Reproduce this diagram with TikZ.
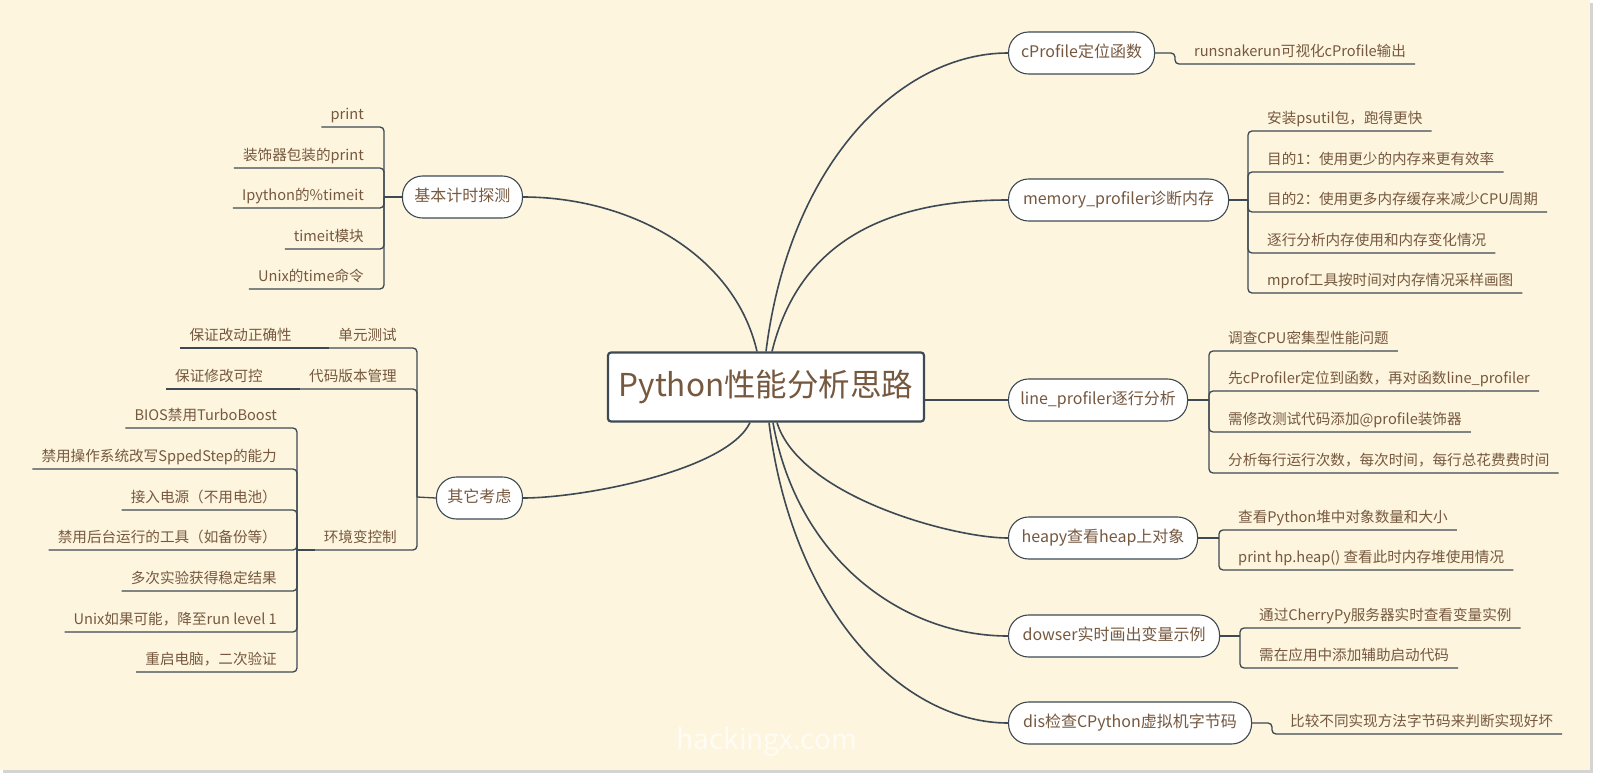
\documentclass[tikz,border=0pt]{standalone}
\usepackage{fontspec}
\setmainfont{Noto Sans CJK SC}
\usetikzlibrary{positioning}
\definecolor{paper}{HTML}{FDF5DE}
\definecolor{ink}{HTML}{3D4A53}
\definecolor{txtbrown}{HTML}{76583F}
\definecolor{edgegray}{HTML}{D4D4D4}
\tikzset{
  rootbox/.style={draw=ink,line width=2.2pt,fill=white,rounded corners=3pt,minimum width=316pt,minimum height=69pt,text=txtbrown,font=\fontsize{31.5}{36}\selectfont},
  topicbox/.style={draw=ink,line width=1.1pt,fill=white,rounded corners=20pt,minimum height=42pt,inner xsep=9pt,text height=12pt,text depth=3.5pt,text=txtbrown,font=\fontsize{16}{18}\selectfont},
  leaftext/.style={inner xsep=9pt,inner ysep=4pt,text height=11pt,text depth=3pt,text=txtbrown,font=\fontsize{14.6}{16}\selectfont},
  limb/.style={draw=ink,line width=1.6pt},
  twig/.style={draw=ink,line width=1.3pt,rounded corners=4pt},
}

\begin{document}
\begin{tikzpicture}[x=1pt,y=-1pt]
\useasboundingbox (0,0) rectangle (1600,779);
% paper and its shadow
\fill[white] (0,0) rectangle (1600,779);
\fill[edgegray] (3,3) rectangle (1593,773);
\fill[paper] (0,0) rectangle (1590,770);
\node (wm) [text=white,opacity=0.7,font=\fontsize{28}{30}\selectfont] at (767,742) {hackingx.com};
%
\node (main) [rootbox] at (766,387) {Python性能分析思路};
% left topics
\node (jb) [topicbox,anchor=east,minimum width=120pt] at (523,197) {基本计时探测};
\node (qt) [topicbox,anchor=east,minimum width=86pt] at (523,498) {其它考虑};
% right topics
\node (cp) [topicbox,anchor=west,minimum width=146pt] at (1008,53) {cProfile定位函数};
\node (mp) [topicbox,anchor=west,minimum width=220pt] at (1008,200) {memory\_profiler诊断内存};
\node (lp) [topicbox,anchor=west,minimum width=179pt] at (1008,400) {line\_profiler逐行分析};
\node (hp) [topicbox,anchor=west,minimum width=189pt] at (1008,538) {heapy查看heap上对象};
\node (dw) [topicbox,anchor=west,minimum width=211pt] at (1008,636) {dowser实时画出变量示例};
\node (ds) [topicbox,anchor=west,minimum width=243pt] at (1008,723) {dis检查CPython虚拟机字节码};
%
\draw[limb] ([xshift=-9pt]main.north) .. controls +(-23,-99) and +(105,0) .. (jb.east);
\draw[limb] ([xshift=-16pt]main.south) .. controls +(-23,48) and +(60,0) .. (qt.east);
\draw[limb] (main.north) .. controls +(24,-191) and +(-106,0) .. (cp.west);
\draw[limb] ([xshift=6pt]main.north) .. controls +(24,-97) and +(-139,0) .. (mp.west);
\draw[limb] (main.east |- lp.west) -- (lp.west);
\draw[limb] ([xshift=11pt]main.south) .. controls +(23,74) and +(-55,0) .. (hp.west);
\draw[limb] ([xshift=7pt]main.south) .. controls +(24,136) and +(-106,0) .. (dw.west);
\draw[limb] ([xshift=3pt]main.south) .. controls +(24,192) and +(-103,0) .. (ds.west);
% hubs
\coordinate (jb-hub) at (384,197);
\coordinate (qt-hub) at (417,497);
\coordinate (hj-hub) at (297,550);
\coordinate (cp-hub) at (1175,53);
\coordinate (mp-hub) at (1248,200);
\coordinate (lp-hub) at (1209,400);
\coordinate (hp-hub) at (1219,538);
\coordinate (dw-hub) at (1240,636);
\coordinate (ds-hub) at (1272,723);
% 基本计时探测
\node (jb1) [leaftext,anchor=south east] at (373,127) {print};
\node (jb2) [leaftext,anchor=south east] at (373,168) {装饰器包装的print};
\node (jb3) [leaftext,anchor=south east] at (373,208) {Ipython的\%timeit};
\node (jb4) [leaftext,anchor=south east] at (373,249) {timeit模块};
\node (jb5) [leaftext,anchor=south east] at (373,289) {Unix的time命令};
\draw[twig] (jb.west) -- (jb-hub);
\foreach \i in {1,...,5} \draw[twig] (jb-hub) |- (jb\i.south west);
% 其它考虑
\node (qt1) [leaftext,anchor=south east] at (406,348) {单元测试};
\node (qt1a) [leaftext,anchor=south east] at (301,348) {保证改动正确性};
\node (qt2) [leaftext,anchor=south east] at (406,389) {代码版本管理};
\node (qt2a) [leaftext,anchor=south east] at (272,389) {保证修改可控};
\node (qt3) [leaftext,anchor=south east] at (406,550) {环境变控制};
\node (hj1) [leaftext,anchor=south east] at (286,428) {BIOS禁用TurboBoost};
\node (hj2) [leaftext,anchor=south east] at (286,469) {禁用操作系统改写SppedStep的能力};
\node (hj3) [leaftext,anchor=south east] at (286,510) {接入电源（不用电池）};
\node (hj4) [leaftext,anchor=south east] at (286,550) {禁用后台运行的工具（如备份等）};
\node (hj5) [leaftext,anchor=south east] at (286,591) {多次实验获得稳定结果};
\node (hj6) [leaftext,anchor=south east] at (286,632) {Unix如果可能，降至run level 1};
\node (hj7) [leaftext,anchor=south east] at (286,672) {重启电脑，二次验证};
\draw[twig] (qt.west) -- (qt-hub);
\foreach \i in {1,2,3} \draw[twig] (qt-hub) |- (qt\i.south west);
\draw[twig] (qt1.south west) -- (qt1a.south west);
\draw[twig] (qt2.south west) -- (qt2a.south west);
\draw[twig] (qt3.south west) -- (hj-hub);
\foreach \i in {1,...,7} \draw[twig] (hj-hub) |- (hj\i.south west);
% cProfile
\node (cp1) [leaftext,anchor=south west] at (1185,64) {runsnakerun可视化cProfile输出};
\draw[twig] (cp.east) -- (cp-hub) |- (cp1.south east);
% memory_profiler
\node (mp1) [leaftext,anchor=south west] at (1258,131) {安装psutil包，跑得更快};
\node (mp2) [leaftext,anchor=south west] at (1258,172) {目的1：使用更少的内存来更有效率};
\node (mp3) [leaftext,anchor=south west] at (1258,212) {目的2：使用更多内存缓存来减少CPU周期};
\node (mp4) [leaftext,anchor=south west] at (1258,253) {逐行分析内存使用和内存变化情况};
\node (mp5) [leaftext,anchor=south west] at (1258,293) {mprof工具按时间对内存情况采样画图};
\draw[twig] (mp.east) -- (mp-hub);
\foreach \i in {1,...,5} \draw[twig] (mp-hub) |- (mp\i.south east);
% line_profiler
\node (lp1) [leaftext,anchor=south west] at (1219,351) {调查CPU密集型性能问题};
\node (lp2) [leaftext,anchor=south west] at (1219,391) {先cProfiler定位到函数，再对函数line\_profiler};
\node (lp3) [leaftext,anchor=south west] at (1219,432) {需修改测试代码添加@profile装饰器};
\node (lp4) [leaftext,anchor=south west] at (1219,473) {分析每行运行次数，每次时间，每行总花费费时间};
\draw[twig] (lp.east) -- (lp-hub);
\foreach \i in {1,...,4} \draw[twig] (lp-hub) |- (lp\i.south east);
% heapy
\node (hp1) [leaftext,anchor=south west] at (1229,530) {查看Python堆中对象数量和大小};
\node (hp2) [leaftext,anchor=south west] at (1229,570) {print hp.heap() 查看此时内存堆使用情况};
\draw[twig] (hp.east) -- (hp-hub);
\foreach \i in {1,2} \draw[twig] (hp-hub) |- (hp\i.south east);
% dowser
\node (dw1) [leaftext,anchor=south west] at (1250,628) {通过CherryPy服务器实时查看变量实例};
\node (dw2) [leaftext,anchor=south west] at (1250,668) {需在应用中添加辅助启动代码};
\draw[twig] (dw.east) -- (dw-hub);
\foreach \i in {1,2} \draw[twig] (dw-hub) |- (dw\i.south east);
% dis
\node (ds1) [leaftext,anchor=south west] at (1281,734) {比较不同实现方法字节码来判断实现好坏};
\draw[twig] (ds.east) -- (ds-hub) |- (ds1.south east);
\end{tikzpicture}
\end{document}
